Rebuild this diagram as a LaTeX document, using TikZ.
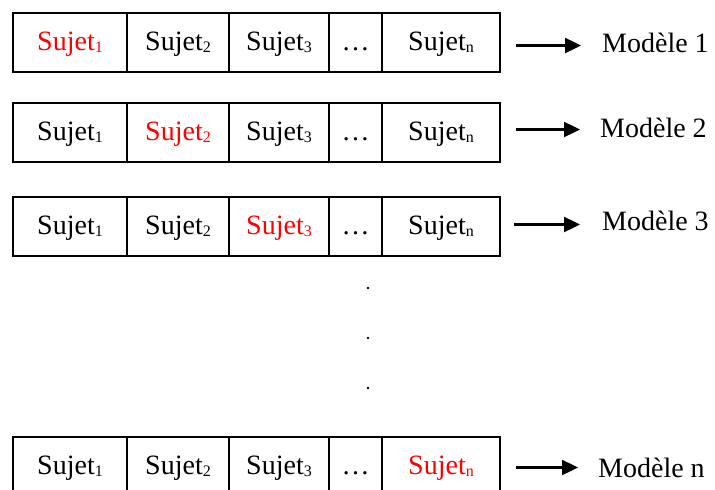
\documentclass[tikz,border=0pt]{standalone}
\usepackage{fontspec}
\setmainfont{Liberation Serif}
\usetikzlibrary{arrows.meta,positioning}
\newcommand{\sujet}[1]{Sujet\raisebox{-2pt}{\fontsize{16}{16}\selectfont #1}}
\begin{document}
\begin{tikzpicture}[x=1pt,y=-1pt,
        cell/.style={draw, line width=1.1pt, minimum height=59pt, inner sep=0pt, outer sep=0pt,
            text height=22pt, text depth=6pt, anchor=north west, font=\fontsize{28}{34}\selectfont},
        lab/.style={inner sep=0pt, anchor=west, font=\fontsize{28}{34}\selectfont},
        arr/.style={line width=2.4pt, -{Triangle[length=16pt,width=15pt]}}]
    \clip (0,0) rectangle (715,490);
    % ligne 1
    \node[cell, minimum width=114pt, text=red] (s11) at (13,13) {\sujet{1}};
    \node[cell, minimum width=102pt, right=0pt of s11] (s12) {\sujet{2}};
    \node[cell, minimum width=100pt, right=0pt of s12] (s13) {\sujet{3}};
    \node[cell, minimum width=53pt, right=0pt of s13] (s14) {…};
    \node[cell, minimum width=118pt, right=0pt of s14] (s15) {\sujet{n}};
    \node[lab] (m1) at (602,43) {Modèle 1};
    \coordinate (a1) at (516,45.5);
    \draw[arr] (a1) -- ([xshift=-21pt]m1.west |- a1);
    % ligne 2
    \node[cell, minimum width=114pt] (s21) at (13,103) {\sujet{1}};
    \node[cell, minimum width=102pt, right=0pt of s21, text=red] (s22) {\sujet{2}};
    \node[cell, minimum width=100pt, right=0pt of s22] (s23) {\sujet{3}};
    \node[cell, minimum width=53pt, right=0pt of s23] (s24) {…};
    \node[cell, minimum width=118pt, right=0pt of s24] (s25) {\sujet{n}};
    \node[lab] (m2) at (600,128) {Modèle 2};
    \coordinate (a2) at (516,129.5);
    \draw[arr] (a2) -- ([xshift=-20pt]m2.west |- a2);
    % ligne 3
    \node[cell, minimum width=114pt] (s31) at (13,197) {\sujet{1}};
    \node[cell, minimum width=102pt, right=0pt of s31] (s32) {\sujet{2}};
    \node[cell, minimum width=100pt, right=0pt of s32, text=red] (s33) {\sujet{3}};
    \node[cell, minimum width=53pt, right=0pt of s33] (s34) {…};
    \node[cell, minimum width=118pt, right=0pt of s34] (s35) {\sujet{n}};
    \node[lab] (m3) at (602,221) {Modèle 3};
    \coordinate (a3) at (514,224.5);
    \draw[arr] (a3) -- ([xshift=-22pt]m3.west |- a3);
    % points
    \fill (368,288) circle (1.3pt);
    \fill (368,338) circle (1.3pt);
    \fill (368,388) circle (1.3pt);
    % ligne n
    \node[cell, minimum width=114pt] (sn1) at (13,437) {\sujet{1}};
    \node[cell, minimum width=102pt, right=0pt of sn1] (sn2) {\sujet{2}};
    \node[cell, minimum width=100pt, right=0pt of sn2] (sn3) {\sujet{3}};
    \node[cell, minimum width=53pt, right=0pt of sn3] (sn4) {…};
    \node[cell, minimum width=118pt, right=0pt of sn4, text=red] (sn5) {\sujet{n}};
    \node[lab] (mn) at (598,468) {Modèle n};
    \coordinate (an) at (516,467.5);
    \draw[arr] (an) -- ([xshift=-20pt]mn.west |- an);
\end{tikzpicture}
\end{document}
